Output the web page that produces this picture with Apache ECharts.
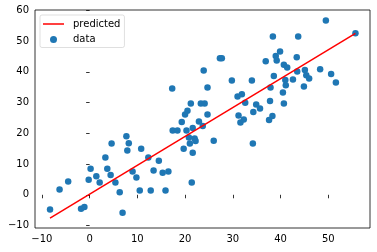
<!DOCTYPE html>
<html>
<head>
<meta charset="utf-8">
<script src="https://cdn.jsdelivr.net/npm/echarts@6/dist/echarts.min.js"></script>
<style>html,body{margin:0;padding:0;background:#fff}#c{width:377px;height:252px}</style>
</head>
<body>
<div id="c"></div>
<script>
var dataX = [-8.3,-6.3,-4.5,-1.8,-1.1,-0.2,0.2,1.4,2.1,3.3,3.7,4.4,4.6,5.4,6.3,6.9,7.7,8.2,7.9,9.0,9.8,10.5,10.8,12.3,12.8,14.5,13.4,15.3,16.5,15.9,21.4,17.4,18.4,19.3,20.3,21.6,20.8,22.0,22.2,21.0,19.7,21.6,26.0,22.9,23.7,31.6,32.3,34.2,27.3,27.7,23.9,17.3,24.7,29.8,34.0,21.2,23.3,24.1,20.5,20.0,24.7,31.0,31.9,32.6,31.2,34.3,34.9,35.7,49.5,55.7,38.4,43.7,39.9,39.0,39.2,36.9,43.4,40.7,41.4,43.5,45.1,45.4,46.0,48.3,50.6,51.6,44.9,38.6,42.6,41.0,41.1,37.9,40.5,37.8,40.7,38.3,37.6];
var dataY = [-4.8,1.7,4.3,-4.5,-4.0,4.9,8.5,6.0,4.0,12.1,8.5,6.4,16.7,4.0,0.8,-5.8,19.0,16.8,14.4,7.6,5.6,1.4,15.0,12.1,1.4,11.1,7.9,7.2,7.6,1.4,4.0,20.9,20.9,23.7,20.9,21.7,18.6,18.3,17.5,16.7,15.0,13.7,17.6,23.8,22.4,23.5,24.5,16.7,44.4,44.4,40.4,34.6,34.9,37.2,37.2,29.7,29.7,29.7,27.3,26.1,26.1,32.0,32.7,29.9,25.8,26.9,29.4,28.1,56.7,52.5,51.5,51.5,46.6,45.1,43.7,43.4,44.7,42.3,41.4,40.1,40.6,38.9,37.8,40.8,39.3,36.5,35.2,38.6,37.5,37.3,35.6,34.9,33.3,30.5,29.7,25.6,24.3];
var predX = [-8.3, 55.7];
var predY = [-7.6, 52.5];
var xTicks = [-10, 0, 10, 20, 30, 40, 50];
var yTicks = [-10, 0, 10, 20, 30, 40, 50, 60];

var chart = echarts.init(document.getElementById('c'), null, {renderer: 'canvas'});
var font = 'DejaVu Sans';
function fmt(v){ return String(v).replace('-', '\u2212'); }
chart.setOption({
  animation: false,
  grid: {left: 35, right: 7, top: 10, bottom: 24, show: true, borderColor: '#000', borderWidth: 0.8, containLabel: false},
  legend: {
    left: 40, top: 15, orient: 'vertical',
    padding: [3, 4, 2, 3],
    itemWidth: 21, itemHeight: 7, itemGap: 3.5,
    borderColor: 'rgba(204,204,204,0.8)', borderWidth: 0.8, borderRadius: 2,
    backgroundColor: 'rgba(255,255,255,0.8)',
    textStyle: {fontFamily: font, fontSize: 10, color: '#000', lineHeight: 12, padding: [0, 0, 0, 4]},
    data: [
      {name: 'predicted', icon: 'path://M0,0 L21,0 L21,1.5 L0,1.5 Z', itemStyle: {color: '#ff0000'}},
      {name: 'data', icon: 'circle', itemStyle: {color: '#1f77b4'}}
    ]
  },
  xAxis: {
    type: 'value', min: -11.45, max: 58.75,
    splitLine: {show: false},
    axisLine: {show: false},
    axisTick: {show: true, length: 3.5, inside: false, customValues: xTicks, lineStyle: {color: '#000', width: 0.8}},
    axisLabel: {customValues: xTicks, margin: 6, fontFamily: font, fontSize: 10, color: '#000', formatter: fmt}
  },
  yAxis: {
    type: 'value', min: -10.8, max: 60.1,
    splitLine: {show: false},
    axisLine: {show: false},
    axisTick: {show: true, length: 3.5, inside: false, customValues: yTicks, lineStyle: {color: '#000', width: 0.8}},
    axisLabel: {customValues: yTicks, margin: 6, fontFamily: font, fontSize: 10, color: '#000', formatter: fmt}
  },
  series: [
    {
      name: 'predicted', type: 'line', z: 3,
      data: predX.map(function(x, i){ return [x, predY[i]]; }),
      showSymbol: false, symbol: 'none',
      lineStyle: {color: '#ff0000', width: 1.5},
      itemStyle: {color: '#ff0000'}
    },
    {
      name: 'data', type: 'scatter', z: 2,
      data: dataX.map(function(x, i){ return [x, dataY[i]]; }),
      symbolSize: 6.5,
      itemStyle: {color: '#1f77b4', opacity: 1}
    }
  ]
});
</script>
</body>
</html>
